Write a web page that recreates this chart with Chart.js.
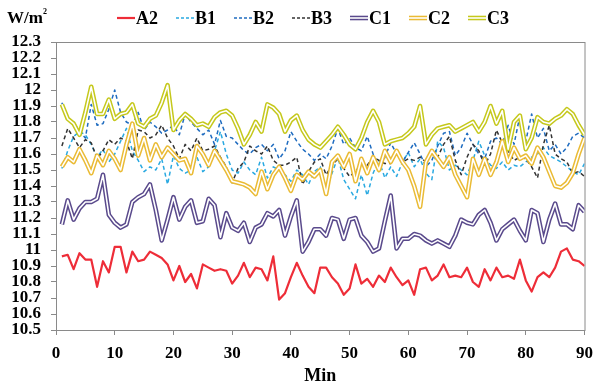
<!DOCTYPE html>
<html>
<head>
<meta charset="utf-8">
<script src="https://cdn.jsdelivr.net/npm/chart.js@4.4.1/dist/chart.umd.min.js"></script>
<style>
  html, body { margin: 0; padding: 0; background: #fff; }
  canvas { display: block; }
</style>
</head>
<body>
<canvas id="chart" width="601" height="387"></canvas>
<script>
// minutes on the x axis
const minutes = [1,2,3,4,5,6,7,8,9,10,11,12,13,14,15,16,17,18,19,20,
  21,22,23,24,25,26,27,28,29,30,31,32,33,34,35,36,37,38,39,40,
  41,42,43,44,45,46,47,48,49,50,51,52,53,54,55,56,57,58,59,60,
  61,62,63,64,65,66,67,68,69,70,71,72,73,74,75,76,77,78,79,80,
  81,82,83,84,85,86,87,88,89,90];

const a2 = [10.96,10.97,10.88,10.98,10.94,10.94,10.77,10.93,10.86,11.02,
  11.02,10.86,10.99,10.93,10.94,10.99,10.97,10.95,10.91,10.81,
  10.90,10.80,10.85,10.76,10.91,10.89,10.87,10.88,10.87,10.79,
  10.84,10.92,10.83,10.89,10.88,10.81,10.96,10.69,10.73,10.83,
  10.92,10.84,10.77,10.73,10.89,10.89,10.83,10.79,10.72,10.76,
  10.91,10.79,10.82,10.77,10.84,10.80,10.89,10.83,10.78,10.81,
  10.72,10.88,10.89,10.81,10.84,10.91,10.83,10.84,10.83,10.89,
  10.80,10.77,10.88,10.81,10.89,10.83,10.84,10.82,10.94,10.81,
  10.74,10.83,10.86,10.83,10.89,10.99,11.01,10.94,10.93,10.90];

const b1 = [11.51,11.62,11.71,11.74,11.72,11.66,11.58,11.63,11.55,11.60,
  11.68,11.76,11.62,11.56,11.49,11.52,11.50,11.57,11.41,11.59,
  11.51,11.48,11.50,11.58,11.49,11.52,11.62,11.74,11.60,11.50,
  11.48,11.55,11.50,11.47,11.58,11.45,11.52,11.50,11.47,11.43,
  11.50,11.47,11.41,11.49,11.52,11.37,11.48,11.58,11.44,11.38,
  11.32,11.47,11.34,11.48,11.56,11.45,11.52,11.46,11.55,11.61,
  11.52,11.57,11.48,11.44,11.68,11.64,11.50,11.53,11.50,11.47,
  11.56,11.68,11.59,11.53,11.51,11.55,11.50,11.53,11.52,11.55,
  11.58,11.60,11.64,11.59,11.57,11.55,11.52,11.49,11.47,11.54];

const b2 = [11.92,11.81,11.80,11.74,11.70,11.91,11.78,11.79,11.88,12.00,
  11.86,11.80,11.78,11.86,11.75,11.80,11.77,11.73,11.75,11.78,
  11.72,11.85,11.80,11.76,11.72,11.75,11.66,11.81,11.71,11.70,
  11.66,11.62,11.60,11.64,11.66,11.62,11.66,11.57,11.62,11.74,
  11.68,11.63,11.60,11.56,11.60,11.57,11.65,11.76,11.66,11.70,
  11.64,11.62,11.71,11.60,11.49,11.58,11.67,11.60,11.55,11.61,
  11.67,11.60,11.52,11.56,11.65,11.73,11.74,11.59,11.64,11.73,
  11.66,11.60,11.57,11.68,11.70,11.66,11.78,11.66,11.84,11.68,
  11.85,11.70,11.76,11.62,11.66,11.60,11.64,11.71,11.73,11.70];

const b3 = [11.65,11.76,11.70,11.64,11.69,11.67,11.57,11.62,11.69,11.66,
  11.70,11.68,11.57,11.75,11.74,11.70,11.72,11.78,11.70,11.65,
  11.57,11.66,11.62,11.70,11.62,11.63,11.65,11.58,11.52,11.42,
  11.51,11.55,11.65,11.62,11.60,11.65,11.56,11.53,11.53,11.55,
  11.58,11.41,11.49,11.55,11.57,11.47,11.53,11.57,11.51,11.46,
  11.49,11.54,11.53,11.58,11.56,11.54,11.54,11.61,11.55,11.57,
  11.56,11.58,11.55,11.61,11.58,11.66,11.71,11.56,11.47,11.58,
  11.66,11.62,11.53,11.60,11.75,11.67,11.62,11.56,11.58,11.57,
  11.52,11.45,11.66,11.78,11.60,11.57,11.55,11.48,11.49,11.46];

const c1 = [11.16,11.31,11.19,11.26,11.30,11.30,11.32,11.47,11.22,11.17,
  11.14,11.16,11.30,11.33,11.35,11.41,11.25,11.06,11.19,11.33,
  11.19,11.27,11.31,11.17,11.18,11.32,11.28,11.08,11.23,11.14,
  11.12,11.17,11.05,11.14,11.16,11.23,11.21,11.25,11.09,11.21,
  11.31,10.99,11.05,11.13,11.13,11.09,11.20,11.19,11.07,11.19,
  11.20,11.09,11.05,10.99,11.01,11.18,11.34,11.01,11.07,11.07,
  11.10,11.09,11.06,11.04,11.06,11.04,11.02,11.09,11.19,11.17,
  11.16,11.22,11.25,11.17,11.06,11.13,11.16,11.19,11.12,11.06,
  11.25,11.23,11.05,11.19,11.29,11.16,11.16,11.13,11.28,11.24];

const c2 = [11.52,11.58,11.55,11.63,11.56,11.48,11.59,11.53,11.62,11.57,
  11.50,11.66,11.79,11.59,11.70,11.56,11.66,11.58,11.64,11.60,
  11.56,11.57,11.48,11.65,11.60,11.53,11.62,11.56,11.50,11.43,
  11.42,11.41,11.39,11.35,11.49,11.38,11.47,11.52,11.45,11.37,
  11.47,11.44,11.49,11.46,11.50,11.35,11.55,11.59,11.52,11.60,
  11.43,11.57,11.48,11.58,11.50,11.62,11.55,11.62,11.55,11.50,
  11.40,11.27,11.55,11.62,11.57,11.52,11.58,11.47,11.40,11.33,
  11.57,11.47,11.57,11.47,11.55,11.68,11.55,11.64,11.57,11.59,
  11.54,11.64,11.58,11.49,11.40,11.39,11.42,11.48,11.60,11.70];

const c3 = [11.91,11.82,11.79,11.72,11.86,12.02,11.85,11.85,11.94,11.82,
  11.85,11.86,11.91,11.79,11.77,11.82,11.84,11.92,12.03,11.75,
  11.81,11.85,11.82,11.78,11.79,11.77,11.83,11.86,11.87,11.84,
  11.76,11.66,11.72,11.80,11.74,11.91,11.89,11.85,11.74,11.81,
  11.84,11.75,11.69,11.66,11.64,11.68,11.72,11.77,11.72,11.66,
  11.63,11.70,11.80,11.87,11.80,11.66,11.68,11.69,11.70,11.73,
  11.77,11.90,11.66,11.72,11.76,11.77,11.78,11.74,11.76,11.78,
  11.80,11.74,11.80,11.90,11.79,11.87,11.63,11.80,11.84,11.63,
  11.70,11.83,11.80,11.79,11.82,11.84,11.88,11.85,11.78,11.72];

const seriesNames = ["A2", "B1", "B2", "B3", "C1", "C2", "C3"];
const seriesValues = [a2, b1, b2, b3, c1, c2, c3];
const xTicks = [0, 10, 20, 30, 40, 50, 60, 70, 80, 90];
const yTicks = [10.5, 10.6, 10.7, 10.8, 10.9, 11, 11.1, 11.2, 11.3, 11.4,
  11.5, 11.6, 11.7, 11.8, 11.9, 12, 12.1, 12.2, 12.3];

const FONT = "'Liberation Serif', 'Times New Roman', serif";

// look of each series: plain, dashed, or double (outline) line
const looks = {
  A2: { color: "#ee2d38", width: 2.2, dash: [] },
  B1: { color: "#29a9e1", width: 1.5, dash: [4, 3] },
  B2: { color: "#1f6cc0", width: 1.5, dash: [4, 3] },
  B3: { color: "#333333", width: 1.5, dash: [4, 3] },
  C1: { color: "#5a4a8c", width: 4.6, dash: [], double: true },
  C2: { color: "#eabb35", width: 4.6, dash: [], double: true },
  C3: { color: "#c5c81c", width: 4.6, dash: [], double: true },
};

const datasets = [];
seriesNames.forEach((name, i) => {
  const pts = seriesValues[i].map((v, k) => ({ x: minutes[k], y: v }));
  const lk = looks[name];
  const base = (seriesNames.length - i) * 2; // later series drawn on top
  datasets.push({
    label: name, data: pts, borderColor: lk.color, backgroundColor: lk.color,
    borderWidth: lk.width, borderDash: lk.dash, pointRadius: 0, tension: 0,
    borderJoinStyle: "round", order: base + 1,
  });
  if (lk.double) {
    datasets.push({
      label: name + "_inner", data: pts, borderColor: "#ffffff",
      borderWidth: 1.6, pointRadius: 0, tension: 0,
      borderJoinStyle: "round", order: base,
    });
  }
});

const framePlugin = {
  id: "frame",
  beforeDatasetsDraw(chart) {
    const { ctx, chartArea: a } = chart;
    ctx.save();
    ctx.strokeStyle = "#8a8a8a";
    ctx.lineWidth = 1;
    ctx.strokeRect(a.left + 0.5, a.top + 0.5, a.right - a.left, a.bottom - a.top);
    ctx.restore();
  },
  afterDraw(chart) {
    const ctx = chart.ctx;
    ctx.save();
    ctx.fillStyle = "#000";
    ctx.textBaseline = "middle";
    ctx.font = "bold 17px " + FONT;
    ctx.fillText("W/m", 7, 19);
    const w = ctx.measureText("W/m").width;
    ctx.font = "bold 8px " + FONT;
    ctx.fillText("2", 7 + w, 12);

    // legend
    let x = 117;
    const y = 18;
    seriesNames.forEach((name) => {
      const lk = looks[name];
      ctx.beginPath();
      ctx.moveTo(x, y);
      ctx.lineTo(x + 18, y);
      ctx.strokeStyle = lk.color;
      ctx.lineWidth = lk.double ? 4.6 : lk.width;
      ctx.setLineDash(lk.dash.length ? [3, 2] : []);
      ctx.stroke();
      if (lk.double) {
        ctx.beginPath();
        ctx.moveTo(x - 1, y);
        ctx.lineTo(x + 19, y);
        ctx.strokeStyle = "#fff";
        ctx.lineWidth = 1.6;
        ctx.stroke();
      }
      ctx.setLineDash([]);
      ctx.font = "bold 18px " + FONT;
      ctx.fillStyle = "#000";
      ctx.fillText(name, x + 19, y + 1);
      x += 19 + ctx.measureText(name).width + 18;
    });
    ctx.restore();
  },
};

const tickFont = { family: FONT, size: 17, weight: "bold" };

new Chart(document.getElementById("chart"), {
  type: "line",
  data: { datasets },
  plugins: [framePlugin],
  options: {
    responsive: false,
    animation: false,
    events: [],
    layout: { padding: { top: 42, right: 8, left: 0, bottom: 0 } },
    plugins: { legend: { display: false }, tooltip: { enabled: false } },
    scales: {
      x: {
        type: "linear", min: 0, max: 90,
        afterBuildTicks: (axis) => { axis.ticks = xTicks.map((v) => ({ value: v })); },
        afterFit: (s) => { s.height = 57; },
        ticks: { font: tickFont, color: "#000", padding: 8, maxRotation: 0, autoSkip: false },
        grid: { drawOnChartArea: false, tickLength: 5, color: "#8a8a8a" },
        border: { color: "#8a8a8a" },
        title: { display: true, text: "Min", color: "#000",
          font: { family: FONT, size: 18, weight: "bold" }, padding: { top: 4, bottom: 0 } },
      },
      y: {
        min: 10.5, max: 12.3,
        afterBuildTicks: (axis) => { axis.ticks = yTicks.map((v) => ({ value: v })); },
        afterFit: (s) => { s.width = 56; },
        ticks: { font: tickFont, color: "#000", padding: 10, autoSkip: false,
          callback: (v) => String(+Number(v).toFixed(1)) },
        grid: { drawOnChartArea: false, tickLength: 5, color: "#8a8a8a" },
        border: { color: "#8a8a8a" },
      },
    },
  },
});
</script>
</body>
</html>
